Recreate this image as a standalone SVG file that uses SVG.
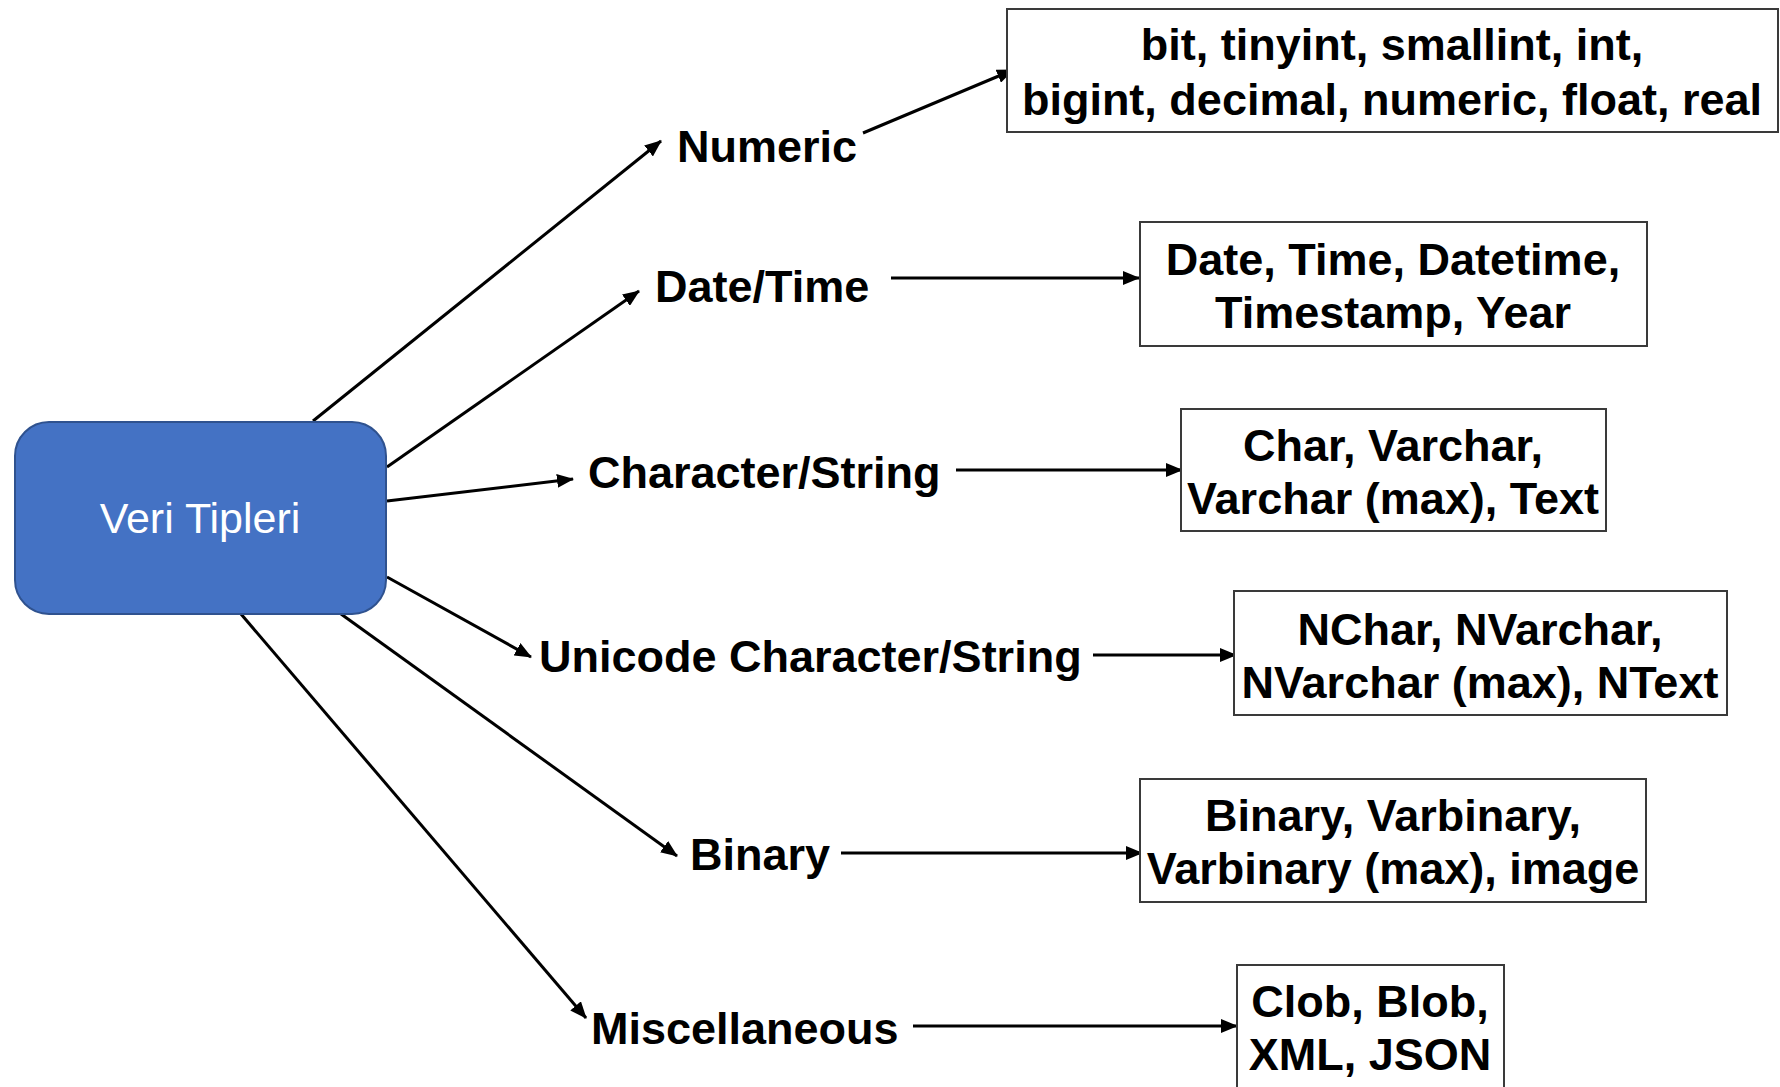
<svg xmlns="http://www.w3.org/2000/svg" width="1780" height="1087" viewBox="0 0 1780 1087">
<defs>
<marker id="ah" viewBox="0 0 17 14" refX="16" refY="7" markerWidth="17" markerHeight="14" markerUnits="userSpaceOnUse" orient="auto">
<path d="M0,0 L17,7 L0,14 z" fill="#000"/>
</marker>
<style>
.lbl{font-family:"Liberation Sans",Arial,sans-serif;font-weight:bold;font-size:45px;fill:#000}
.bt{font-family:"Liberation Sans",Arial,sans-serif;font-weight:bold;font-size:45px;fill:#000;text-anchor:middle}
.box{fill:#fff;stroke:#3a3a3a;stroke-width:2}
.con{stroke:#000;stroke-width:3;fill:none;marker-end:url(#ah)}
</style>
</defs>
<rect width="1780" height="1087" fill="#fff"/>
<g id="connectors">
<line class="con" x1="313" y1="421" x2="661" y2="141"/>
<line class="con" x1="387" y1="467" x2="639" y2="291"/>
<line class="con" x1="387" y1="501" x2="573" y2="479"/>
<line class="con" x1="387" y1="577" x2="531" y2="657"/>
<line class="con" x1="341" y1="614" x2="677" y2="856"/>
<line class="con" x1="241" y1="614" x2="586" y2="1018"/>
<line class="con" x1="863" y1="133" x2="1013" y2="70"/>
<line class="con" x1="891" y1="278" x2="1139" y2="278"/>
<line class="con" x1="956" y1="470" x2="1182" y2="470"/>
<line class="con" x1="1093" y1="655" x2="1236" y2="655"/>
<line class="con" x1="841" y1="853" x2="1142" y2="853"/>
<line class="con" x1="913" y1="1026" x2="1237" y2="1026"/>
</g>
<g id="root">
<rect x="15" y="422" width="371" height="192" rx="34" ry="34" fill="#4472C4" stroke="#2F528F" stroke-width="2"/>
<text x="200" y="533" font-family="Liberation Sans,Arial,sans-serif" font-size="43" fill="#fff" text-anchor="middle">Veri Tipleri</text>
</g>
<g id="lbl-numeric"><text class="lbl" x="677" y="162">Numeric</text></g>
<g id="lbl-datetime"><text class="lbl" x="655" y="302">Date/Time</text></g>
<g id="lbl-char"><text class="lbl" x="588" y="488">Character/String</text></g>
<g id="lbl-unicode"><text class="lbl" x="539" y="672">Unicode Character/String</text></g>
<g id="lbl-binary"><text class="lbl" x="690" y="870">Binary</text></g>
<g id="lbl-misc"><text class="lbl" x="591" y="1044">Miscellaneous</text></g>
<g id="box-numeric">
<rect class="box" x="1007" y="9" width="771" height="123"/>
<text class="bt" x="1392" y="60">bit, tinyint, smallint, int,</text>
<text class="bt" x="1392" y="115">bigint, decimal, numeric, float, real</text>
</g>
<g id="box-datetime">
<rect class="box" x="1140" y="222" width="507" height="124"/>
<text class="bt" x="1393" y="275">Date, Time, Datetime,</text>
<text class="bt" x="1393" y="328">Timestamp, Year</text>
</g>
<g id="box-char">
<rect class="box" x="1181" y="409" width="425" height="122"/>
<text class="bt" x="1393" y="461">Char, Varchar,</text>
<text class="bt" x="1393" y="514">Varchar (max), Text</text>
</g>
<g id="box-unicode">
<rect class="box" x="1234" y="591" width="493" height="124"/>
<text class="bt" x="1480" y="645">NChar, NVarchar,</text>
<text class="bt" x="1480" y="698">NVarchar (max), NText</text>
</g>
<g id="box-binary">
<rect class="box" x="1140" y="779" width="506" height="123"/>
<text class="bt" x="1393" y="831">Binary, Varbinary,</text>
<text class="bt" x="1393" y="884">Varbinary (max), image</text>
</g>
<g id="box-misc">
<rect class="box" x="1237" y="965" width="267" height="125"/>
<text class="bt" x="1370" y="1017">Clob, Blob,</text>
<text class="bt" x="1370" y="1070">XML, JSON</text>
</g>
</svg>
